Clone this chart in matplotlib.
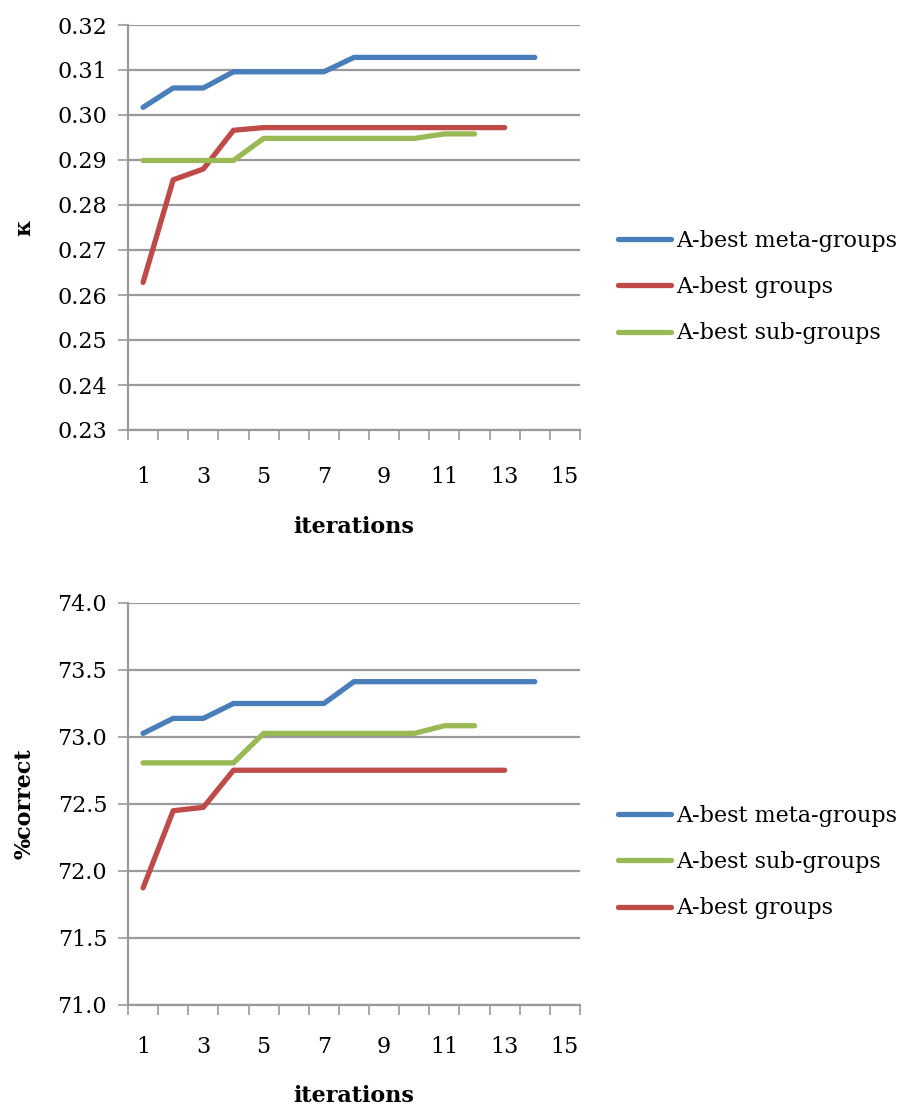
import matplotlib
matplotlib.use("Agg")
import matplotlib.pyplot as plt

plt.rcParams['font.family'] = ['DejaVu Serif']

iterations = list(range(1, 16))

# kappa per iteration
kappa_meta = [0.3017, 0.3060, 0.3060, 0.3096, 0.3096, 0.3096, 0.3096,
              0.3128, 0.3128, 0.3128, 0.3128, 0.3128, 0.3128, 0.3128]
kappa_groups = [0.2628, 0.2856, 0.2880, 0.2966, 0.2972, 0.2972, 0.2972,
                0.2972, 0.2972, 0.2972, 0.2972, 0.2972, 0.2972]
kappa_sub = [0.2899, 0.2899, 0.2899, 0.2899, 0.2948, 0.2948, 0.2948,
             0.2948, 0.2948, 0.2948, 0.2958, 0.2958]

# percent correct per iteration
pc_meta = [73.027, 73.139, 73.139, 73.25, 73.25, 73.25, 73.25,
           73.413, 73.413, 73.413, 73.413, 73.413, 73.413, 73.413]
pc_sub = [72.807, 72.807, 72.807, 72.807, 73.027, 73.027, 73.027,
          73.027, 73.027, 73.027, 73.084, 73.084]
pc_groups = [71.874, 72.45, 72.475, 72.752, 72.752, 72.752, 72.752,
             72.752, 72.752, 72.752, 72.752, 72.752, 72.752]

label_meta = "A-best meta-groups"
label_groups = "A-best groups"
label_sub = "A-best sub-groups"

c_blue = "#4A7EBB"
c_red = "#BE4B48"
c_green = "#98B954"
c_axis = "#9A9A9A"

FS = 16
W, H = 905, 1111
fig = plt.figure(figsize=(W / 100, H / 100), dpi=100)


def make_axes(top, bottom):
    left, right = 128, 580
    return fig.add_axes([left / W, 1 - bottom / H, (right - left) / W, (bottom - top) / H])


def style(ax, ylim, yticks, yfmt, ylabel, xpad, xlabelpad):
    ax.set_xlim(0.5, 15.5)
    ax.set_ylim(*ylim)
    ax.set_yticks(yticks)
    ax.set_yticklabels([yfmt.format(v) for v in yticks], fontsize=FS)
    # category boundaries carry the tick marks, odd categories carry labels
    ax.set_xticks([i + 0.5 for i in range(0, 16)])
    ax.set_xticklabels([])
    ax.set_xticks(iterations[::2], minor=True)
    ax.set_xticklabels([str(i) for i in iterations[::2]], minor=True, fontsize=FS)
    ax.tick_params(axis='x', which='major', length=7, width=1.2, color=c_axis, direction='out')
    ax.tick_params(axis='x', which='minor', length=0, pad=xpad)
    ax.tick_params(axis='y', length=7, width=1.2, color=c_axis, direction='out', pad=8)
    ax.grid(axis='y', color=c_axis, linewidth=1.6)
    ax.set_axisbelow(True)
    for s in ('top', 'right'):
        ax.spines[s].set_visible(False)
    for s in ('left', 'bottom'):
        ax.spines[s].set_color(c_axis)
        ax.spines[s].set_linewidth(1.6)
    ax.set_xlabel("iterations", fontsize=FS, fontweight='bold', labelpad=xlabelpad)
    ax.set_ylabel(ylabel, fontsize=FS, fontweight='bold', labelpad=16)


lw = 3.8

ax1 = make_axes(25, 430)
ax1.plot(iterations[:len(kappa_meta)], kappa_meta, color=c_blue, lw=lw,
         solid_capstyle='round', label=label_meta)
ax1.plot(iterations[:len(kappa_groups)], kappa_groups, color=c_red, lw=lw,
         solid_capstyle='round', label=label_groups)
ax1.plot(iterations[:len(kappa_sub)], kappa_sub, color=c_green, lw=lw,
         solid_capstyle='round', label=label_sub)
style(ax1, (0.23, 0.32), [0.23 + 0.01 * i for i in range(10)], "{:.2f}", "κ", 26, 20)

ax2 = make_axes(603, 1005)
ax2.plot(iterations[:len(pc_meta)], pc_meta, color=c_blue, lw=lw,
         solid_capstyle='round', label=label_meta)
ax2.plot(iterations[:len(pc_sub)], pc_sub, color=c_green, lw=lw,
         solid_capstyle='round', label=label_sub)
ax2.plot(iterations[:len(pc_groups)], pc_groups, color=c_red, lw=lw,
         solid_capstyle='round', label=label_groups)
style(ax2, (71.0, 74.0), [71.0 + 0.5 * i for i in range(7)], "{:.1f}", "%correct", 22, 20)

for ax, yc in ((ax1, 287), (ax2, 862)):
    ax.legend(loc='center left', bbox_to_anchor=(618 / W, 1 - yc / H),
              bbox_transform=fig.transFigure, frameon=False, fontsize=FS,
              handlelength=2.4, handletextpad=0.2, labelspacing=1.1,
              borderaxespad=0, borderpad=0)

fig.savefig("out.png", dpi=100)
